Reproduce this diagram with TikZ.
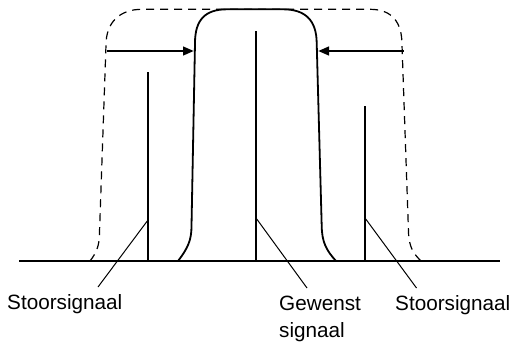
\documentclass[tikz,border=0pt]{standalone}
\usepackage{fontspec}
\setmainfont{Liberation Sans}
\usetikzlibrary{arrows.meta}
\begin{document}
\begin{tikzpicture}[x=1pt,y=-1pt,
  spike/.style={line width=2.8pt},
  leader/.style={line width=1pt},
  filt/.style={line width=1.8pt, line join=round},
  dfilt/.style={line width=1.2pt, dash pattern=on 8pt off 6pt},
  widthar/.style={line width=2.6pt, -{Triangle[length=11pt,width=8.5pt]}},
  lab/.style={font=\fontsize{20.7}{26.5}\selectfont, inner sep=0pt, anchor=base west, align=left}]
\useasboundingbox (0,0) rectangle (510,341);
% axis
\coordinate (axL) at (19,261);
\coordinate (axR) at (500,261);
\draw[line width=2.8pt] (axL) -- (axR);
% dashed filter
\draw[dfilt] (90,261) .. controls (97,252) and (99.5,245) .. (99.5,232)
  -- (106,45) .. controls (106,22) and (120,9.3) .. (142,9.3)
  -- (370,9.3) .. controls (392,9.3) and (402,22) .. (402,45)
  -- (408.5,232) .. controls (409,248) and (414,254) .. (421,261);
% solid filter
\draw[filt] (178,261) .. controls (188,248) and (191.5,240) .. (191.5,226)
  -- (195,43) .. controls (195,20) and (205,9.3) .. (227,9.3)
  -- (283,9.3) .. controls (305,9.3) and (316.5,20) .. (316.7,43)
  -- (321.7,226) .. controls (322,242) and (326,250) .. (336,261);
% spikes
\coordinate (s1b) at (148,261); \coordinate (s1t) at (148,72);
\coordinate (s2b) at (256,261); \coordinate (s2t) at (256,31);
\coordinate (s3b) at (365,261); \coordinate (s3t) at (365,106);
\draw[spike] (s1b) -- (s1t);
\draw[spike] (s2b) -- (s2t);
\draw[spike] (s3b) -- (s3t);
% width arrows
\coordinate (aL0) at (106.5,51); \coordinate (aL1) at (194,51);
\coordinate (aR0) at (403.5,51); \coordinate (aR1) at (318,51);
\draw[widthar] (aL0) -- (aL1);
\draw[widthar] (aR0) -- (aR1);
% labels
\node[lab] (l1) at (7,309) {Stoorsignaal};
\node[lab] (l2) at (279,337) {Gewenst\\signaal};
\node[lab] (l3) at (395,310) {Stoorsignaal};
% leaders
\coordinate (p1) at (148,220); \coordinate (q1) at (98,287);
\coordinate (p2) at (256,218); \coordinate (q2) at (307,288);
\coordinate (p3) at (365,218); \coordinate (q3) at (416.5,288);
\draw[leader] (p1) -- (q1);
\draw[leader] (p2) -- (q2);
\draw[leader] (p3) -- (q3);
\end{tikzpicture}
\end{document}
